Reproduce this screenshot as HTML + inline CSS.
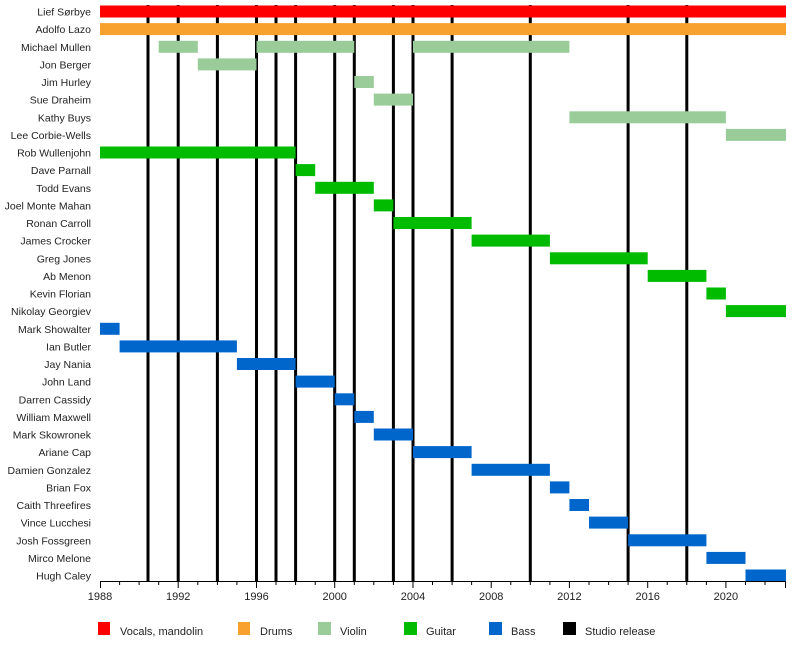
<!DOCTYPE html>
<html><head><meta charset="utf-8"><style>
html,body{margin:0;padding:0;background:#fff;}
svg{display:block;font-family:"Liberation Sans",sans-serif;}
</style></head><body>
<svg width="800" height="671" viewBox="0 0 800 671" xmlns="http://www.w3.org/2000/svg">
<g stroke="#000" stroke-width="3">
<line x1="148" y1="5" x2="148" y2="581"/>
<line x1="178.2" y1="5" x2="178.2" y2="581"/>
<line x1="217.4" y1="5" x2="217.4" y2="581"/>
<line x1="256.5" y1="5" x2="256.5" y2="581"/>
<line x1="276" y1="5" x2="276" y2="581"/>
<line x1="295.6" y1="5" x2="295.6" y2="581"/>
<line x1="334.7" y1="5" x2="334.7" y2="581"/>
<line x1="354.3" y1="5" x2="354.3" y2="581"/>
<line x1="393.4" y1="5" x2="393.4" y2="581"/>
<line x1="413" y1="5" x2="413" y2="581"/>
<line x1="452.1" y1="5" x2="452.1" y2="581"/>
<line x1="530.3" y1="5" x2="530.3" y2="581"/>
<line x1="628.1" y1="5" x2="628.1" y2="581"/>
<line x1="686.8" y1="5" x2="686.8" y2="581"/>
</g>
<rect x="100" y="5.5" width="686" height="12" fill="#ff0000"/>
<rect x="100" y="23.1" width="686" height="12" fill="#f9a12e"/>
<g fill="#99cc99">
<rect x="158.7" y="40.8" width="39.1" height="12"/>
<rect x="256.5" y="40.8" width="97.8" height="12"/>
<rect x="413" y="40.8" width="156.4" height="12"/>
<rect x="197.8" y="58.4" width="58.7" height="12"/>
<rect x="354.3" y="76" width="19.5" height="12"/>
<rect x="373.8" y="93.6" width="39.2" height="12"/>
<rect x="569.4" y="111.3" width="156.5" height="12"/>
<rect x="725.9" y="128.9" width="60.1" height="12"/>
</g>
<g fill="#00bb00">
<rect x="100" y="146.5" width="195.6" height="12"/>
<rect x="295.6" y="164.1" width="19.6" height="12"/>
<rect x="315.2" y="181.8" width="58.6" height="12"/>
<rect x="373.8" y="199.4" width="19.6" height="12"/>
<rect x="393.4" y="217" width="78.2" height="12"/>
<rect x="471.6" y="234.6" width="78.3" height="12"/>
<rect x="549.9" y="252.3" width="97.8" height="12"/>
<rect x="647.7" y="269.9" width="58.7" height="12"/>
<rect x="706.4" y="287.5" width="19.5" height="12"/>
<rect x="725.9" y="305.1" width="60.1" height="12"/>
</g>
<g fill="#0066cc">
<rect x="100" y="322.8" width="19.6" height="12"/>
<rect x="119.6" y="340.4" width="117.3" height="12"/>
<rect x="236.9" y="358" width="58.7" height="12"/>
<rect x="295.6" y="375.6" width="39.1" height="12"/>
<rect x="334.7" y="393.3" width="19.6" height="12"/>
<rect x="354.3" y="410.9" width="19.5" height="12"/>
<rect x="373.8" y="428.5" width="39.2" height="12"/>
<rect x="413" y="446.1" width="58.6" height="12"/>
<rect x="471.6" y="463.8" width="78.3" height="12"/>
<rect x="549.9" y="481.4" width="19.5" height="12"/>
<rect x="569.4" y="499" width="19.6" height="12"/>
<rect x="589" y="516.6" width="39.1" height="12"/>
<rect x="628.1" y="534.3" width="78.3" height="12"/>
<rect x="706.4" y="551.9" width="39.1" height="12"/>
<rect x="745.5" y="569.5" width="40.5" height="12"/>
</g>
<g font-size="10.5" fill="#222" text-anchor="end">
<text x="91" y="15.5">Lief Sørbye</text>
<text x="91" y="33.1">Adolfo Lazo</text>
<text x="91" y="50.8">Michael Mullen</text>
<text x="91" y="68.4">Jon Berger</text>
<text x="91" y="86">Jim Hurley</text>
<text x="91" y="103.6">Sue Draheim</text>
<text x="91" y="121.3">Kathy Buys</text>
<text x="91" y="138.9">Lee Corbie-Wells</text>
<text x="91" y="156.5">Rob Wullenjohn</text>
<text x="91" y="174.1">Dave Parnall</text>
<text x="91" y="191.8">Todd Evans</text>
<text x="91" y="209.4">Joel Monte Mahan</text>
<text x="91" y="227">Ronan Carroll</text>
<text x="91" y="244.6">James Crocker</text>
<text x="91" y="262.3">Greg Jones</text>
<text x="91" y="279.9">Ab Menon</text>
<text x="91" y="297.5">Kevin Florian</text>
<text x="91" y="315.1">Nikolay Georgiev</text>
<text x="91" y="332.8">Mark Showalter</text>
<text x="91" y="350.4">Ian Butler</text>
<text x="91" y="368">Jay Nania</text>
<text x="91" y="385.6">John Land</text>
<text x="91" y="403.3">Darren Cassidy</text>
<text x="91" y="420.9">William Maxwell</text>
<text x="91" y="438.5">Mark Skowronek</text>
<text x="91" y="456.1">Ariane Cap</text>
<text x="91" y="473.8">Damien Gonzalez</text>
<text x="91" y="491.4">Brian Fox</text>
<text x="91" y="509">Caith Threefires</text>
<text x="91" y="526.6">Vince Lucchesi</text>
<text x="91" y="544.3">Josh Fossgreen</text>
<text x="91" y="561.9">Mirco Melone</text>
<text x="91" y="579.5">Hugh Caley</text>
</g>
<g stroke="#000" stroke-width="1">
<line x1="100" y1="581.5" x2="786" y2="581.5"/>
<line x1="100.5" y1="581" x2="100.5" y2="588"/>
<line x1="178.2" y1="581" x2="178.2" y2="588"/>
<line x1="256.5" y1="581" x2="256.5" y2="588"/>
<line x1="334.7" y1="581" x2="334.7" y2="588"/>
<line x1="413" y1="581" x2="413" y2="588"/>
<line x1="491.2" y1="581" x2="491.2" y2="588"/>
<line x1="569.4" y1="581" x2="569.4" y2="588"/>
<line x1="647.7" y1="581" x2="647.7" y2="588"/>
<line x1="725.9" y1="581" x2="725.9" y2="588"/>
<line x1="785.5" y1="581" x2="785.5" y2="588"/>
</g>
<g stroke="#000" stroke-width="1">
<line x1="119.6" y1="581" x2="119.6" y2="585"/><line x1="139.1" y1="581" x2="139.1" y2="585"/><line x1="158.7" y1="581" x2="158.7" y2="585"/>
<line x1="197.8" y1="581" x2="197.8" y2="585"/><line x1="217.4" y1="581" x2="217.4" y2="585"/><line x1="236.9" y1="581" x2="236.9" y2="585"/>
<line x1="276" y1="581" x2="276" y2="585"/><line x1="295.6" y1="581" x2="295.6" y2="585"/><line x1="315.2" y1="581" x2="315.2" y2="585"/>
<line x1="354.3" y1="581" x2="354.3" y2="585"/><line x1="373.8" y1="581" x2="373.8" y2="585"/><line x1="393.4" y1="581" x2="393.4" y2="585"/>
<line x1="432.5" y1="581" x2="432.5" y2="585"/><line x1="452.1" y1="581" x2="452.1" y2="585"/><line x1="471.6" y1="581" x2="471.6" y2="585"/>
<line x1="510.8" y1="581" x2="510.8" y2="585"/><line x1="530.3" y1="581" x2="530.3" y2="585"/><line x1="549.9" y1="581" x2="549.9" y2="585"/>
<line x1="589" y1="581" x2="589" y2="585"/><line x1="608.6" y1="581" x2="608.6" y2="585"/><line x1="628.1" y1="581" x2="628.1" y2="585"/>
<line x1="667.2" y1="581" x2="667.2" y2="585"/><line x1="686.8" y1="581" x2="686.8" y2="585"/><line x1="706.4" y1="581" x2="706.4" y2="585"/>
<line x1="745.5" y1="581" x2="745.5" y2="585"/><line x1="765" y1="581" x2="765" y2="585"/>
</g>
<g font-size="11" fill="#222" text-anchor="middle">
<text x="100" y="600">1988</text>
<text x="178.2" y="600">1992</text>
<text x="256.5" y="600">1996</text>
<text x="334.7" y="600">2000</text>
<text x="413" y="600">2004</text>
<text x="491.2" y="600">2008</text>
<text x="569.4" y="600">2012</text>
<text x="647.7" y="600">2016</text>
<text x="725.9" y="600">2020</text>
</g>
<rect x="98" y="622" width="12" height="13" fill="#ff0000"/>
<rect x="238" y="622" width="12" height="13" fill="#f9a12e"/>
<rect x="318" y="622" width="13" height="13" fill="#99cc99"/>
<rect x="404" y="622" width="13" height="13" fill="#00bb00"/>
<rect x="489" y="622" width="13" height="13" fill="#0066cc"/>
<rect x="563" y="622" width="13" height="13" fill="#000"/>
<g font-size="11" fill="#222">
<text x="120" y="635">Vocals, mandolin</text>
<text x="260" y="635">Drums</text>
<text x="340" y="635">Violin</text>
<text x="426" y="635">Guitar</text>
<text x="511" y="635">Bass</text>
<text x="585" y="635">Studio release</text>
</g>
</svg>
</body></html>
